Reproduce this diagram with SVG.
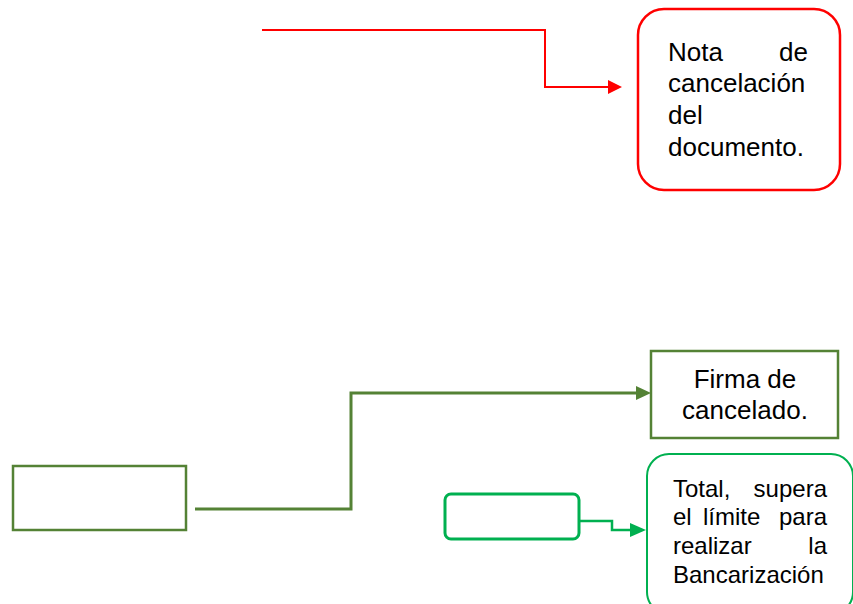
<svg xmlns="http://www.w3.org/2000/svg" width="853" height="604" viewBox="0 0 853 604">
<defs>
<style>
text{font-family:"Liberation Sans",Arial,sans-serif;fill:#000}
.t26{font-size:26px}
.t24{font-size:24px}
</style>
</defs>
<rect width="853" height="604" fill="#fff"/>
<g id="connectors" fill="none">
<path d="M262,30H545V87H609" stroke="#FF0000" stroke-width="2"/>
<path d="M608,80L622,87L608,94z" fill="#FF0000"/>
<path d="M195,509H351V393H637" stroke="#548235" stroke-width="3"/>
<path d="M636,386L651,393L636,400z" fill="#548235"/>
<path d="M580,521H612V530H631" stroke="#00B050" stroke-width="2.5"/>
<path d="M630,523L646,530L630,537z" fill="#00B050"/>
</g>
<g id="nota">
<rect x="638" y="9" width="202" height="181" rx="26" fill="#fff" stroke="#FF0000" stroke-width="2.5"/>
<text class="t26" x="668" y="61">Nota</text>
<text class="t26" x="808" y="61" text-anchor="end">de</text>
<text class="t26" x="668" y="92">cancelación</text>
<text class="t26" x="668" y="124">del</text>
<text class="t26" x="668" y="156">documento.</text>
</g>
<g id="firma">
<rect x="651" y="351" width="187" height="87" fill="#fff" stroke="#548235" stroke-width="2.5"/>
<text class="t26" x="745" y="388" text-anchor="middle">Firma de</text>
<text class="t26" x="745" y="419" text-anchor="middle">cancelado.</text>
</g>
<g id="empty1">
<rect x="13" y="466" width="173" height="64" fill="#fff" stroke="#548235" stroke-width="2.5"/>
</g>
<g id="empty2">
<rect x="445" y="494" width="134" height="45" rx="6" fill="#fff" stroke="#00B050" stroke-width="3"/>
</g>
<g id="total">
<rect x="647" y="454" width="206" height="160" rx="22" fill="#fff" stroke="#00B050" stroke-width="2"/>
<text class="t24" x="673" y="497">Total,</text>
<text class="t24" x="827" y="497" text-anchor="end">supera</text>
<text class="t24" x="673" y="525">el</text>
<text class="t24" x="703" y="525">límite</text>
<text class="t24" x="827" y="525" text-anchor="end">para</text>
<text class="t24" x="673" y="554">realizar</text>
<text class="t24" x="827" y="554" text-anchor="end">la</text>
<text class="t24" x="673" y="583">Bancarización</text>
</g>
</svg>
